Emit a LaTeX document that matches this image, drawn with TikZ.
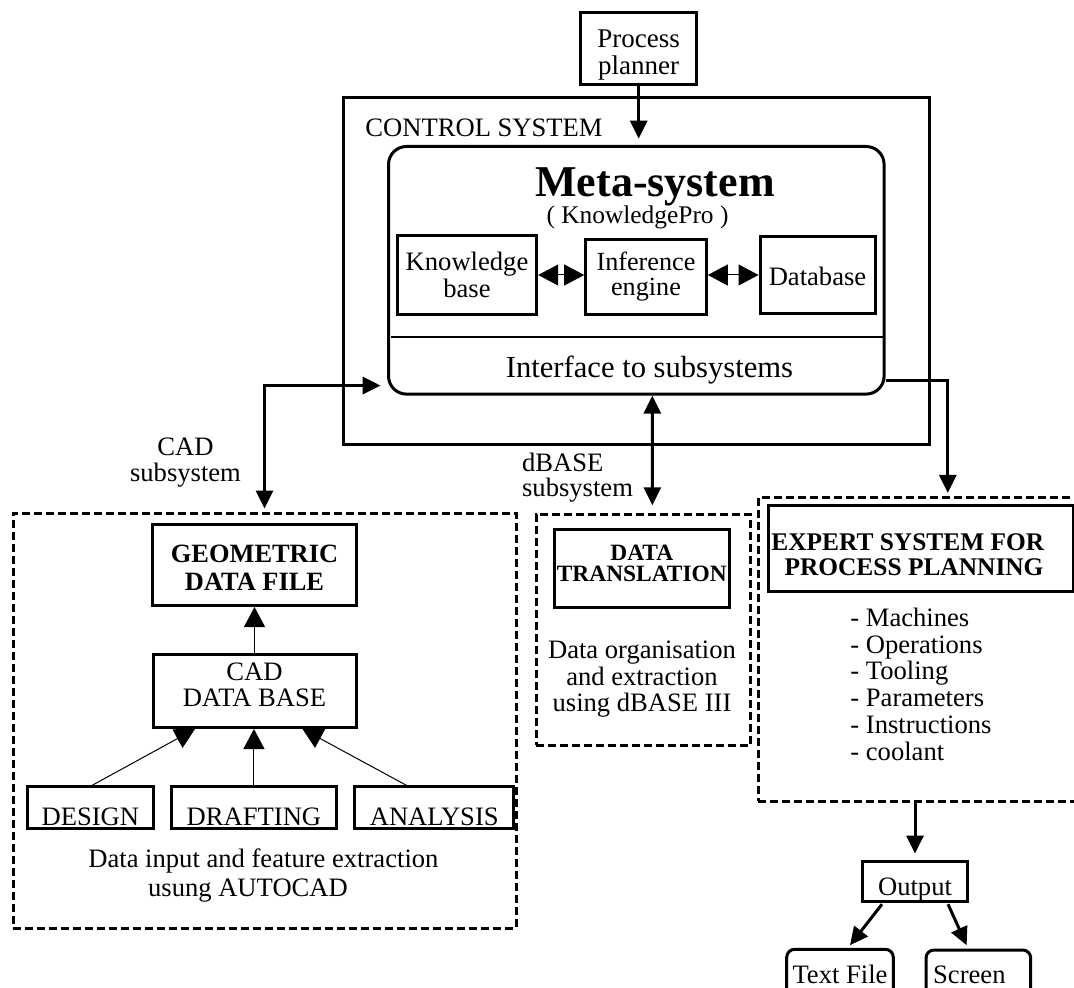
\documentclass[tikz,border=0pt]{standalone}
\usepackage{fontspec}
\setmainfont{Liberation Serif}
\usetikzlibrary{arrows.meta,calc}
\newcommand\myfs[2]{\fontsize{#1}{#2}\selectfont}
\begin{document}
\begin{tikzpicture}[x=0.5pt,y=-0.5pt,
  box/.style={draw,line width=1.5pt,inner xsep=0pt,inner ysep=0pt,align=center,font=\myfs{13.3pt}{13.5pt}},
  dbox/.style={draw,line width=1.5pt,dash pattern=on 4pt off 2pt,inner sep=0pt},
  txt/.style={inner sep=0pt,font=\myfs{13.3pt}{13.3pt}},
  big/.style={line width=1.5pt,-{Triangle[length=9pt,width=8.5pt]}},
  bigboth/.style={line width=1.5pt,{Triangle[length=9pt,width=8.5pt]}-{Triangle[length=9pt,width=8.5pt]}},
  thin/.style={line width=0.5pt,-{Triangle[length=10pt,width=10.5pt]}},
  thinboth/.style={line width=0.5pt,{Triangle[length=10pt,width=10.5pt]}-{Triangle[length=10pt,width=10.5pt]}},
]
\useasboundingbox (0,0) rectangle (1074,988);

% outer containers
\node[box,minimum width=293.2pt,minimum height=173.2pt] (control) at (636.3,270.9) {};
\node[box,rounded corners=9pt,minimum width=247.8pt,minimum height=123.8pt] (meta) at (636.3,270.3) {};
\node[dbox,minimum width=251.5pt,minimum height=207.5pt] (cadbox) at (264.5,720.5) {};
\node[dbox,minimum width=107.35pt,minimum height=115.5pt] (dbbox) at (643.35,629.5) {};
\node[dbox,minimum width=160.85pt,minimum height=152pt] (expbox) at (919.15,649) {};

% top
\node[box,anchor=base,minimum width=58pt,text height=31.15pt,text depth=5pt,font=\myfs{13.5pt}{13.6pt}] (planner) at (638.7,75) {Process\\planner};
\node[txt,anchor=base west] (ctrltitle) at (365,136.7) {CONTROL SYSTEM};
\node[txt,anchor=base,font=\myfs{22pt}{22pt}\bfseries] (metatitle) at (655,196.7) {Meta-system};
\node[txt,anchor=base,font=\myfs{12.7pt}{12.7pt}] (kpro) at (637.5,223.3) {( KnowledgePro )};

\node[box,anchor=base,minimum width=69.7pt,text height=30.8pt,text depth=8.5pt] (kb) at (467,297.3) {Knowledge\\base};
\node[box,anchor=base,minimum width=60.3pt,text height=28.25pt,text depth=9.5pt,font=\myfs{13.1pt}{12.5pt}] (ie) at (646,296) {Inference\\engine};
\node[box,anchor=base,minimum width=57.5pt,text height=24.5pt,text depth=13.8pt] (db) at (817.5,285.7) {Database};

\draw[line width=1.3pt] ($(meta.west)+(3.5,66.7)$) -- ($(meta.east)+(-3,66.7)$);
\node[txt,anchor=base,font=\myfs{15.3pt}{15.3pt}] (iface) at (649.5,377.3) {Interface to subsystems};

% CAD subsystem
\node[txt,anchor=base,align=center,font=\myfs{13.3pt}{12.9pt}] (cadlbl) at (185.5,481.6) {CAD\\subsystem};
\node[box,anchor=base,minimum width=102pt,text height=33pt,text depth=7.75pt,font=\myfs{13.2pt}{13.75pt}\bfseries] (geom) at (254.5,590) {GEOMETRIC\\DATA FILE};
\node[box,anchor=base,minimum width=101.5pt,text height=26.15pt,text depth=10.35pt,font=\myfs{13.3pt}{13pt}] (caddb) at (254.5,706.8) {CAD\\DATA BASE};
\node[box,anchor=base,minimum width=62.9pt,text height=19.15pt,text depth=1.7pt] (design) at (90.35,825) {DESIGN};
\node[box,anchor=base,minimum width=82.5pt,text height=19.15pt,text depth=1.7pt] (drafting) at (253.95,825) {DRAFTING};
\node[box,anchor=base,minimum width=79.6pt,text height=19.15pt,text depth=1.7pt] (analysis) at (434.25,825) {ANALYSIS};
\node[txt,anchor=base,align=center,font=\myfs{13.3pt}{14.3pt}] (cadnote) at (263.4,896.2) {Data input and feature extraction\\usung AUTOCAD\hspace*{15.4pt}};

% dBASE subsystem
\node[txt,anchor=base west,align=left,font=\myfs{13.3pt}{12.5pt}] (dblbl) at (521.7,496.7) {dBASE\\subsystem};
\node[box,anchor=base,minimum width=87.5pt,text height=26.35pt,text depth=13pt,font=\myfs{11.7pt}{10.85pt}\bfseries] (dt) at (641.8,581.7) {DATA\\TRANSLATION};
\node[txt,anchor=base,align=center,font=\myfs{13.3pt}{13.35pt}] (dtnote) at (642,711.7) {Data organisation\\and extraction\\using dBASE III};

% expert system
\node[box,anchor=base,minimum width=152.5pt,text height=35pt,text depth=8.35pt,font=\myfs{12.7pt}{12.5pt}\bfseries] (expert) at (920.8,575) {EXPERT SYSTEM FOR\hspace*{13pt}\\PROCESS PLANNING\hspace*{6.8pt}};
\node[txt,anchor=base west,align=left,font=\myfs{13.3pt}{13.35pt}] (explist) at (850,760) {- Machines\\- Operations\\- Tooling\\- Parameters\\- Instructions\\- coolant};

% output
\node[box,anchor=base,minimum width=52.3pt,text height=16.65pt,text depth=3.35pt] (output) at (915,895) {Output};
\node[box,rounded corners=4pt,anchor=base,minimum width=53.3pt,text height=16.85pt,text depth=8.5pt] (textfile) at (840,983) {Text File};
\node[box,rounded corners=4pt,anchor=base,minimum width=52.35pt,text height=16.5pt,text depth=8.5pt] (screen) at (978.35,983) {Screen\hspace*{9pt}};

% connectors
\draw[big,shorten >=3.2pt] (planner.south) -- (planner.south |- meta.north);
\draw[bigboth,shorten <=1.5pt,shorten >=3.2pt] (cadbox.north) |- ($(meta.south west)+(0,-10)$);
\draw[bigboth,shorten <=3.6pt] ($(dbbox.north)+(9,0)$) -- ($(meta.south)+(16,0)$);
\draw[big,shorten >=1.3pt] ($(meta.south east)+(0,-15)$) -| ($(expbox.north west)+(191,0)$);
\draw[big,shorten >=3.3pt] (output.north |- expbox.south) -- (output.north);
\draw[big] ($(output.south)+(-33,1)$) -- ($(textfile.north)+(10,-2.6)$);
\draw[big] ($(output.south)+(33,1)$) -- ($(screen.north)+(-11.7,-3.3)$);

\draw[thinboth] (kb.east) -- (kb.east -| ie.west);
\draw[thinboth] (ie.east |- db.west) -- (db.west);

\draw[thin] (caddb.north) -- (geom.south);
\draw[thin] (drafting.north) -- (drafting.north |- caddb.south);
\draw[thin] ($(design.north)+(2,0)$) -- ($(caddb.south)+(-59.5,0)$);
\draw[thin] ($(analysis.north)+(-28,0)$) -- ($(caddb.south)+(48,0)$);
\end{tikzpicture}
\end{document}
